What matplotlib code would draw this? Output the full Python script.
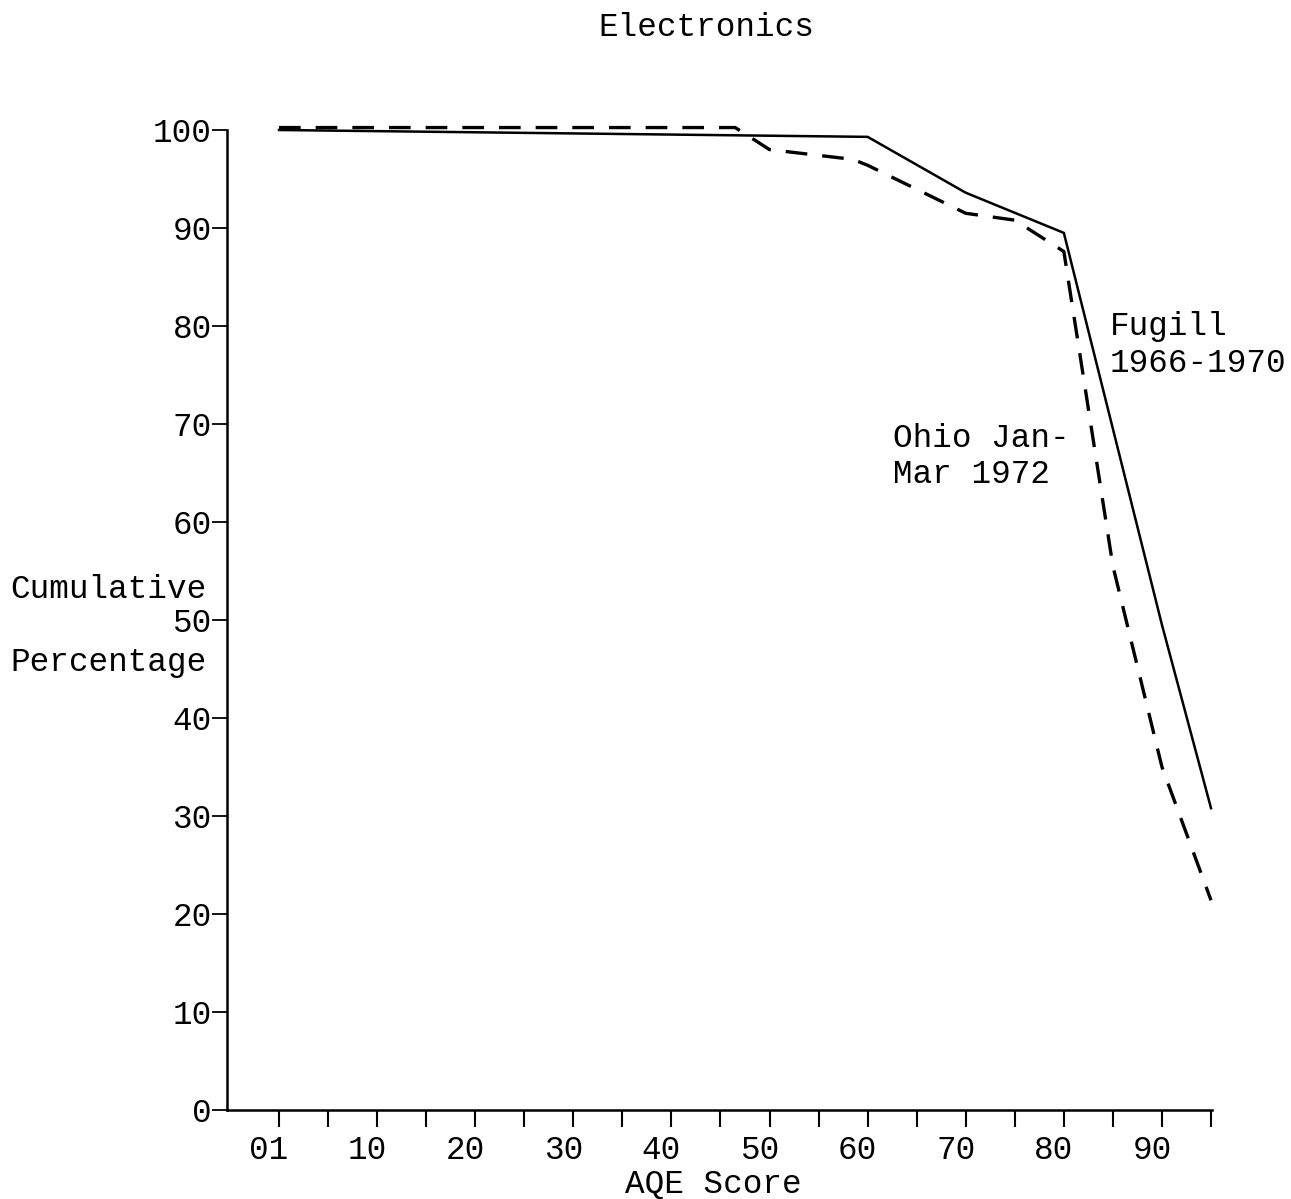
import matplotlib
matplotlib.use("Agg")
import matplotlib.pyplot as plt
from matplotlib.transforms import ScaledTranslation

# ---- data ----
fugill_x = [0, 60, 70, 80, 90, 95]
fugill_y = [100, 99.3, 93.6, 89.5, 49.5, 30.8]

ohio_x = [0, 46.5, 50, 58.5, 60, 70, 75, 80, 85, 90, 95]
ohio_y = [100.25, 100.25, 98.0, 97.0, 96.4, 91.5, 90.8, 87.6, 55.5, 35.0, 21.4]

x_major = [0, 10, 20, 30, 40, 50, 60, 70, 80, 90]
x_labels = ["01", "10", "20", "30", "40", "50", "60", "70", "80", "90"]
x_minor = [5, 15, 25, 35, 45, 55, 65, 75, 85, 95]
y_ticks = [0, 10, 20, 30, 40, 50, 60, 70, 80, 90, 100]

FONT = ["Liberation Mono", "DejaVu Sans Mono"]
plt.rcParams["font.family"] = FONT
FS = 23.5

W, H = 1291, 1199
fig = plt.figure(figsize=(W / 100, H / 100), dpi=100)
ax = fig.add_axes([227 / W, 1 - 1110 / H, (1212 - 227) / W, (1110 - 130) / H])

ax.plot(fugill_x, fugill_y, color="black", lw=1.8, solid_joinstyle="miter", clip_on=False)
ax.plot(ohio_x, ohio_y, color="black", lw=2.4, dashes=(6.5, 4.5), clip_on=False)

ax.set_xlim(-5.3, 95.1)
ax.set_ylim(0, 100)

for s in ["top", "right"]:
    ax.spines[s].set_visible(False)
for s in ["left", "bottom"]:
    ax.spines[s].set_linewidth(1.8)

ax.set_yticks(y_ticks)
ax.set_yticklabels([str(t) for t in y_ticks], fontsize=FS)
ax.tick_params(axis="y", direction="out", length=11, width=1.3, pad=0)

ax.set_xticks(x_major)
ax.set_xticklabels(x_labels, fontsize=FS)
ax.set_xticks(x_minor, minor=True)
ax.tick_params(axis="x", which="both", direction="out", length=12, width=1.5, pad=6)
for lab in ax.get_xticklabels():
    lab.set_transform(lab.get_transform() + ScaledTranslation(-10 / 100, 0, fig.dpi_scale_trans))

fig.text(713 / W, 1 - 1184 / H, "AQE Score", fontsize=FS, ha="center", va="center")
fig.text(706 / W, 1 - 27 / H, "Electronics", fontsize=FS, ha="center", va="center")
fig.text(207 / W, 1 - 590 / H, "Cumulative", fontsize=FS, ha="right", va="center")
fig.text(207 / W, 1 - 663 / H, "Percentage", fontsize=FS, ha="right", va="center")

fig.text(1110 / W, 1 - 327 / H, "Fugill", fontsize=FS, ha="left", va="center")
fig.text(1110 / W, 1 - 364 / H, "1966-1970", fontsize=FS, ha="left", va="center")
fig.text(893 / W, 1 - 438 / H, "Ohio Jan-", fontsize=FS, ha="left", va="center")
fig.text(893 / W, 1 - 474 / H, "Mar 1972", fontsize=FS, ha="left", va="center")

fig.savefig("out.png", dpi=100)
